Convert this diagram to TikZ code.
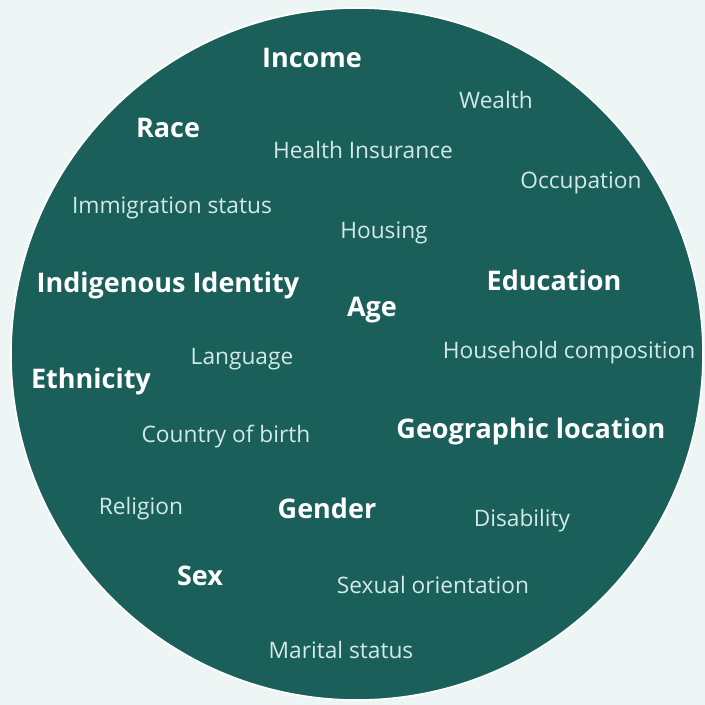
\documentclass[tikz,border=0pt]{standalone}
\usepackage{fontspec}
\setmainfont{Open Sans}
\usepackage{xcolor}
\usetikzlibrary{positioning}

\definecolor{bgmint}{HTML}{EEF6F5}
\definecolor{deepteal}{HTML}{1B5F5A}
\definecolor{paletext}{HTML}{D2EAE5}

\tikzset{
  bigfactor/.style={text=white, font=\fontsize{27}{30}\selectfont\bfseries, inner sep=0pt},
  smallfactor/.style={text=paletext, font=\fontsize{22.7}{26}\selectfont, inner sep=0pt}
}

\begin{document}
\begin{tikzpicture}[x=1pt, y=-1pt]
\fill[bgmint] (0,0) rectangle (705,705);
\useasboundingbox (0,0) rectangle (705,705);

% the big disc
\fill[deepteal, draw=white, line width=1.6pt] (357,354) circle (346);

% main factors
\node[bigfactor] (income) at (312,58) {Income};
\node[bigfactor] (race) at (168,128) {Race};
\node[bigfactor] (indigenous) at (168,285) {Indigenous Identity};
\node[bigfactor] (education) at (554,280) {Education};
\node[bigfactor] (age) at (372,310) {Age};
\node[bigfactor] (ethnicity) at (91,381) {Ethnicity};
\node[bigfactor] (geo) at (531,431) {Geographic location};
\node[bigfactor] (gender) at (327,508) {Gender};
\node[bigfactor] (sex) at (200,576) {Sex};

% other factors
\node[smallfactor] (wealth) at (496,100) {Wealth};
\node[smallfactor] (health) at (363,150) {Health Insurance};
\node[smallfactor] (occupation) at (581,183) {Occupation};
\node[smallfactor] (immigration) at (172,208) {Immigration status};
\node[smallfactor] (housing) at (384,233) {Housing};
\node[smallfactor] (language) at (242,359) {Language};
\node[smallfactor] (household) at (569,353) {Household composition};
\node[smallfactor] (birth) at (226,437) {Country of birth};
\node[smallfactor] (religion) at (141,509) {Religion};
\node[smallfactor] (disability) at (522,521) {Disability};
\node[smallfactor] (orientation) at (433,585) {Sexual orientation};
\node[smallfactor] (marital) at (341,650) {Marital status};
\end{tikzpicture}
\end{document}
